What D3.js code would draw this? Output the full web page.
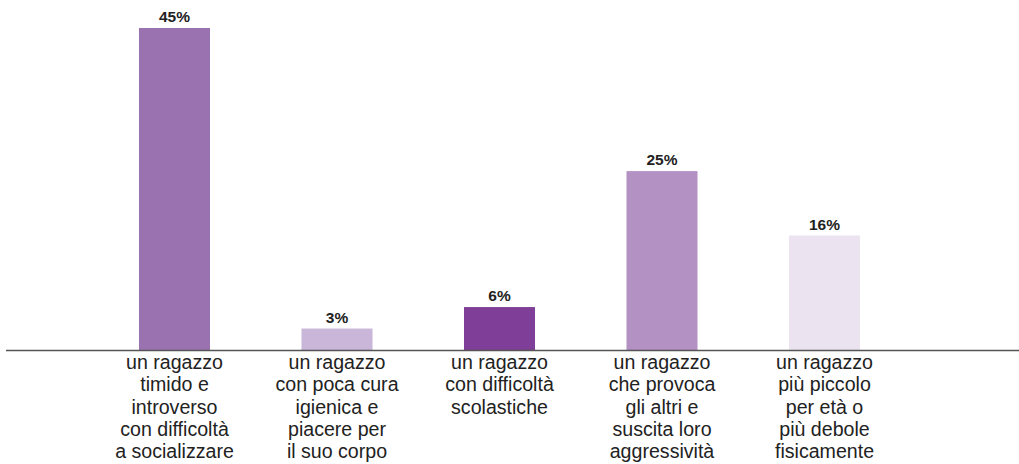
<!DOCTYPE html>
<html>
<head>
<meta charset="utf-8">
<script src="https://cdn.jsdelivr.net/npm/d3@7"></script>
<style>
html,body{margin:0;padding:0;background:#fff;}
svg{display:block;}
</style>
</head>
<body>
<svg id="chart" width="1019" height="464"></svg>
<script>
const categories = [
  ["un ragazzo","timido e","introverso","con difficoltà","a socializzare"],
  ["un ragazzo","con poca cura","igienica e","piacere per","il suo corpo"],
  ["un ragazzo","con difficoltà","scolastiche"],
  ["un ragazzo","che provoca","gli altri e","suscita loro","aggressività"],
  ["un ragazzo","più piccolo","per età o","più debole","fisicamente"]
];
const values = [45, 3, 6, 25, 16];
const valueLabels = ["45%","3%","6%","25%","16%"];
const colors = ["#9b72b0","#c9b6d9","#7f3f98","#b391c3","#ebe3f0"];

const svg = d3.select("#chart");
const baseY = 350;
const keys = categories.map((c,i)=>i);

const x = d3.scaleBand().domain(keys).range([93.25, 905.75])
  .paddingInner(0.563).paddingOuter(0.2815);
const y = d3.scaleLinear().domain([0,45]).range([baseY, 28]);

svg.selectAll("rect.bar").data(values).join("rect")
  .attr("class","bar")
  .attr("x",(d,i)=>x(i))
  .attr("width",x.bandwidth())
  .attr("y",d=>y(d))
  .attr("height",d=>baseY-y(d))
  .attr("fill",(d,i)=>colors[i]);

svg.selectAll("text.val").data(values).join("text")
  .attr("class","val")
  .attr("x",(d,i)=>x(i)+x.bandwidth()/2)
  .attr("y",d=>y(d)-6)
  .attr("text-anchor","middle")
  .attr("font-family","'Liberation Sans', Arial, sans-serif")
  .attr("font-weight","bold")
  .attr("font-size","15.5px")
  .attr("fill","#222")
  .text((d,i)=>valueLabels[i]);

svg.append("line")
  .attr("x1",6).attr("x2",1019)
  .attr("y1",baseY+0.5).attr("y2",baseY+0.5)
  .attr("stroke","#555").attr("stroke-width",1.5);

const lab = svg.selectAll("text.cat").data(categories).join("text")
  .attr("class","cat")
  .attr("text-anchor","middle")
  .attr("font-family","'Liberation Sans', Arial, sans-serif")
  .attr("font-size","19.6px")
  .attr("fill","#222");
lab.each(function(lines,i){
  const t = d3.select(this);
  lines.forEach((l,j)=>{
    t.append("tspan")
      .attr("x", x(i)+x.bandwidth()/2)
      .attr("y", 369 + j*22.3)
      .text(l);
  });
});
</script>
</body>
</html>
